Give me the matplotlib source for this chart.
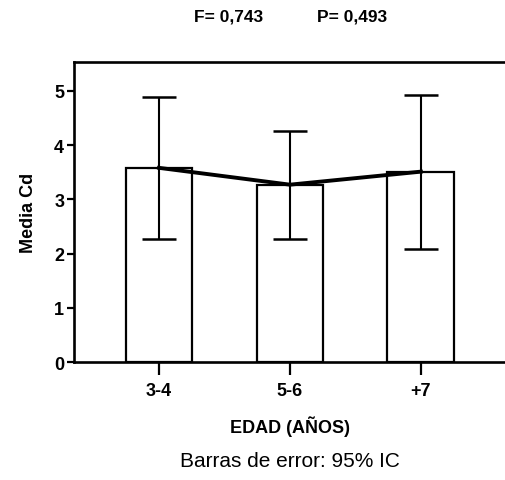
import matplotlib
matplotlib.use('Agg')
import matplotlib.pyplot as plt
import numpy as np

# datos
grupos = ['3-4', '5-6', '+7']
medias = [3.58, 3.27, 3.51]
ic_sup = [4.89, 4.26, 4.93]
ic_inf = [2.26, 2.27, 2.08]

plt.rcParams['font.family'] = ['Liberation Sans', 'DejaVu Sans']

fig = plt.figure(figsize=(5.06, 4.81), dpi=100)
ax = fig.add_axes([0.146, 0.245, 0.854, 0.624])

x = np.arange(len(grupos))
med = np.array(medias)
err = [med - np.array(ic_inf), np.array(ic_sup) - med]

ax.bar(x, medias, width=0.51, color='white', edgecolor='black', linewidth=1.6, zorder=2)
ax.plot(x, medias, color='black', lw=2.8, zorder=3)
ax.errorbar(x, medias, yerr=err, fmt='none', ecolor='black', elinewidth=1.5,
            capsize=12, capthick=1.8, zorder=4)

ax.set_xlim(-0.65, 2.65)
ax.set_ylim(0, 5.53)
ax.set_xticks(x)
ax.set_xticklabels(grupos, fontweight='bold', fontsize=13)
ax.set_yticks(range(6))
ax.set_yticklabels([str(i) for i in range(6)], fontweight='bold', fontsize=13)
ax.tick_params(axis='y', direction='out', length=5, width=1.6, pad=2)
ax.tick_params(axis='x', direction='out', length=9, width=1.6, pad=5)

for s in ['left', 'bottom', 'top']:
    ax.spines[s].set_linewidth(1.9)
ax.spines['right'].set_visible(False)

ax.set_ylabel('Media Cd', fontweight='bold', fontsize=13, labelpad=12)
ax.set_xlabel('EDAD (AÑOS)', fontweight='bold', fontsize=13, labelpad=12)

fig.text(0.451, 0.965, 'F= 0,743', fontsize=12.5, fontweight='bold', ha='center', va='center')
fig.text(0.696, 0.965, 'P= 0,493', fontsize=12.5, fontweight='bold', ha='center', va='center')
fig.text(0.573, 0.04, 'Barras de error: 95% IC', fontsize=15, ha='center', va='center')

fig.savefig('out.png', dpi=100)
